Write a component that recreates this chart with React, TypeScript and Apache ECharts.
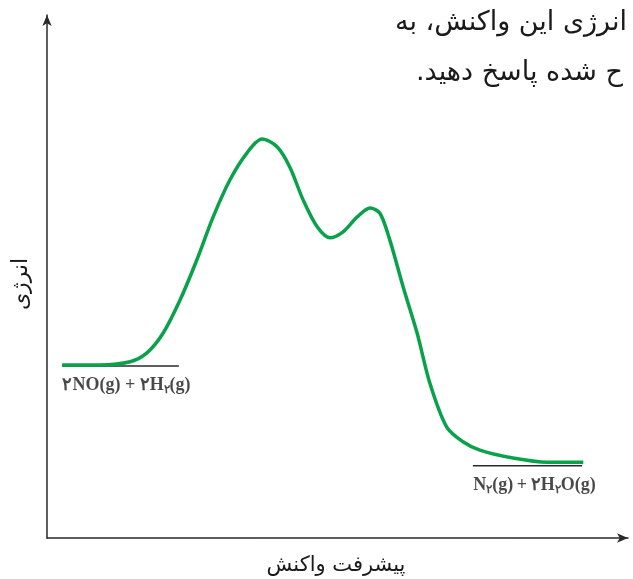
import React, { useEffect, useRef } from "react";
import * as echarts from "echarts";

// Reaction progress (x) and energy (y), arbitrary units
const progress = [2.6, 9.1, 14.3, 17.2, 20.0, 22.9, 25.8, 28.6, 31.5, 34.4, 37.0, 39.6, 41.8, 44.1, 46.5, 48.7, 50.9, 53.4, 55.6, 57.3, 59.0, 61.3, 63.7, 65.9, 68.8, 71.6, 74.5, 80.2, 86.1, 92.3];
const energy = [33.1, 33.1, 33.7, 35.4, 39.2, 45.5, 53.2, 61.4, 68.5, 73.6, 76.3, 74.8, 70.9, 64.6, 59.5, 57.4, 58.5, 61.4, 63.1, 62.1, 57.0, 48.0, 39.2, 29.6, 21.2, 18.4, 16.8, 15.3, 14.5, 14.5];

// Energy levels: [xStart, xEnd, level]
const reactantLevel = [2.6, 22.7, 32.9];
const productLevel = [73.3, 92.1, 13.8];

const reactantLabel = "{b|۲NO(g) + ۲H}{s|۲}{b|(g)}";
const productLabel = "{b|N}{s|۲}{b|(g)\u2009+\u2009۲H}{s|۲}{b|O(g)}";

const yAxisTitle = "انرژی";
const xAxisTitle = "پیشرفت واکنش";
const topLine1 = "\u200Fانرژی این واکنش، به";
const topLine2 = "\u200Fح شده پاسخ دهید.\u200F";

export default function App() {
  const ref = useRef<HTMLDivElement>(null);
  useEffect(() => {
    if (!ref.current) return;
    const chart = echarts.init(ref.current, null, { renderer: "svg" });
    const persian = "'DejaVu Sans', 'Noto Sans', sans-serif";
    const serif = "'Liberation Serif', 'DejaVu Serif', serif";
    const richLabel = {
      b: { fontSize: 18, fontWeight: "bold", fontFamily: serif, color: "#1a1a1a", lineHeight: 22 },
      s: { fontSize: 12, fontWeight: "bold", fontFamily: serif, color: "#1a1a1a", lineHeight: 12, verticalAlign: "bottom" },
    };
    const levelSeries = (lvl: number[], label: string, dx: number) => [
      {
        type: "line",
        data: [[lvl[0], lvl[2]], [lvl[1], lvl[2]]],
        symbol: "none",
        lineStyle: { color: "#2a2a2a", width: 1.5 },
        silent: true,
        z: 1,
      },
      {
        type: "scatter",
        data: [[(lvl[0] + lvl[1]) / 2, lvl[2]]],
        symbolSize: 0,
        silent: true,
        label: {
          show: true,
          position: "bottom",
          distance: 7,
          offset: [dx, 0],
          formatter: label,
          rich: richLabel,
        },
      },
    ];
    chart.setOption({
      animation: false,
      grid: { left: 47, right: 5, top: 15, bottom: 41, containLabel: false },
      xAxis: {
        type: "value",
        min: 0,
        max: 100,
        axisLine: { show: true, lineStyle: { color: "#2a2a2a", width: 1.5 }, symbol: ["none", "arrow"], symbolSize: [7, 11] },
        axisTick: { show: false },
        axisLabel: { show: false },
        splitLine: { show: false },
      },
      yAxis: {
        type: "value",
        min: 0,
        max: 100,
        axisLine: { show: true, lineStyle: { color: "#2a2a2a", width: 1.5 }, symbol: ["none", "arrow"], symbolSize: [7, 11] },
        axisTick: { show: false },
        axisLabel: { show: false },
        splitLine: { show: false },
      },
      graphic: [
        { type: "text", x: 627, y: 20, style: { text: topLine1, fontSize: 27, fontFamily: persian, fill: "#1a1a1a", align: "right", verticalAlign: "middle" } },
        { type: "text", x: 623, y: 70, style: { text: topLine2, fontSize: 27, fontFamily: persian, fill: "#1a1a1a", align: "right", verticalAlign: "middle" } },
        { type: "text", x: 19, y: 284, rotation: Math.PI / 2, style: { text: yAxisTitle, fontSize: 22, fontFamily: persian, fill: "#1a1a1a", align: "center", verticalAlign: "middle" } },
        { type: "text", x: 336, y: 564, style: { text: xAxisTitle, fontSize: 21, fontFamily: persian, fill: "#1a1a1a", align: "center", verticalAlign: "middle" } },
      ],
      series: [
        {
          type: "line",
          data: progress.map((x, i) => [x, energy[i]]),
          smooth: 0.3,
          symbol: "none",
          lineStyle: { color: "#0aa14b", width: 3.5 },
          z: 3,
        },
        ...levelSeries(reactantLevel, reactantLabel, 6),
        ...levelSeries(productLevel, productLabel, 7),
      ],
    });
    return () => chart.dispose();
  }, []);
  return <div ref={ref} style={{ position: "fixed", left: 0, top: 0, width: 633, height: 579 }} />;
}
